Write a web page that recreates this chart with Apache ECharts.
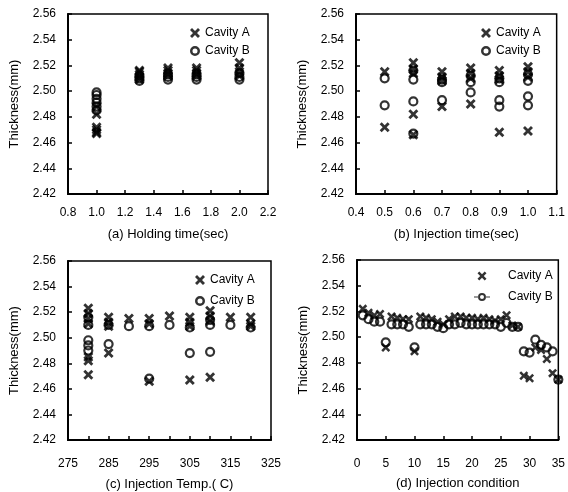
<!DOCTYPE html>
<html>
<head>
<meta charset="utf-8">
<script src="https://cdn.jsdelivr.net/npm/echarts@6/dist/echarts.min.js"></script>
<style>
html,body{margin:0;padding:0;background:#fff;}
#main{width:568px;height:492px;}
</style>
</head>
<body>
<div id="main"></div>
<script>
// (a) holding time groups
var holdTimes = [1.0, 1.3, 1.5, 1.7, 2.0];
var holdA = [
    [2.467, 2.468, 2.470, 2.472, 2.482, 2.488],
    [2.509, 2.511, 2.513, 2.515, 2.516],
    [2.512, 2.514, 2.516, 2.518],
    [2.512, 2.514, 2.516, 2.518],
    [2.512, 2.515, 2.518, 2.522]
];
var holdB = [
    [2.485, 2.488, 2.491, 2.494, 2.497, 2.499],
    [2.508, 2.510, 2.512],
    [2.509, 2.511, 2.513],
    [2.509, 2.511, 2.513],
    [2.509, 2.511, 2.514]
];

// (b) injection time groups
var injTimes = [0.5, 0.6, 0.7, 0.8, 0.9, 1.0];
var injA = [
    [2.515, 2.472],
    [2.522, 2.517, 2.514, 2.482, 2.466],
    [2.515, 2.511, 2.508, 2.488],
    [2.518, 2.514, 2.510, 2.490],
    [2.516, 2.512, 2.509, 2.468],
    [2.519, 2.515, 2.511, 2.469]
];
var injB = [
    [2.510, 2.489],
    [2.516, 2.509, 2.492, 2.467],
    [2.509, 2.507, 2.493],
    [2.512, 2.507, 2.499],
    [2.510, 2.507, 2.493, 2.488],
    [2.513, 2.508, 2.496, 2.489]
];

// (c) injection temperature groups
var temps = [280, 285, 290, 295, 300, 305, 310, 315, 320];
var tempA = [
    [2.523, 2.519, 2.515, 2.511, 2.485, 2.482, 2.471],
    [2.516, 2.512, 2.509, 2.488],
    [2.515],
    [2.515, 2.511, 2.466],
    [2.517],
    [2.516, 2.512, 2.509, 2.467],
    [2.521, 2.517, 2.513, 2.469],
    [2.516],
    [2.516, 2.511, 2.509]
];
var tempB = [
    [2.516, 2.510, 2.498, 2.494, 2.490],
    [2.510, 2.495],
    [2.509],
    [2.509, 2.468],
    [2.510],
    [2.508, 2.488],
    [2.514, 2.510, 2.489],
    [2.510],
    [2.508]
];

// (d) injection condition number 1..35
var condNo = [1,2,3,4,5,6,7,8,9,10,11,12,13,14,15,16,17,18,19,20,21,22,23,24,25,26,27,28,29,30,31,32,33,34,35];
var condA = [2.522, 2.519, 2.517, 2.518, 2.492, 2.516, 2.515, 2.514, 2.514, 2.489,
             2.516, 2.515, 2.514, 2.512, 2.510, 2.514, 2.516, 2.516, 2.515, 2.515,
             2.514, 2.515, 2.514, 2.513, 2.514, 2.517, 2.509, 2.508, 2.470, 2.468,
             2.492, 2.490, 2.483, 2.472, 2.467];
var condB = [2.517, 2.514, 2.512, 2.512, 2.496, 2.510, 2.510, 2.510, 2.508, 2.492,
             2.510, 2.510, 2.510, 2.508, 2.507, 2.510, 2.510, 2.511, 2.510, 2.510,
             2.510, 2.510, 2.510, 2.510, 2.508, 2.511, 2.508, 2.508, 2.489, 2.488,
             2.498, 2.494, 2.492, 2.489, 2.467];

var xNames = ['(a) Holding time(sec)', '(b) Injection time(sec)', '(c) Injection Temp.( C)', '(d) Injection condition'];
var legendNames = ['Cavity A', 'Cavity B'];

var FONT = '"Liberation Sans", Arial, sans-serif';
var crossPath = 'path://M0,2 L2,0 L5,3 L8,0 L10,2 L7,5 L10,8 L8,10 L5,7 L2,10 L0,8 L3,5 Z';
// legend icons: bold ring, and ring with short line stubs for panel (d)
var ringPath = 'path://M1,5 A4,4 0 1,0 9,5 A4,4 0 1,0 1,5 Z M3,5 A2,2 0 1,1 7,5 A2,2 0 1,1 3,5 Z';
var ringLinePath = 'path://M4,4 A4,4 0 1,0 12,4 A4,4 0 1,0 4,4 Z M6,4 A2,2 0 1,1 10,4 A2,2 0 1,1 6,4 Z M0,3.4 L4.2,3.4 L4.2,4.6 L0,4.6 Z M11.8,3.4 L16,3.4 L16,4.6 L11.8,4.6 Z';

function groupPairs(xs, groups){
    var out = [];
    xs.forEach(function(x, i){
        groups[i].forEach(function(v){ out.push([x, v]); });
    });
    return out;
}
function zipPairs(xs, ys){
    return xs.map(function(x, i){ return [x, ys[i]]; });
}

var grids = [
    {left: 68, top: 14, width: 200, height: 180},
    {left: 356, top: 14, width: 204, height: 180},
    {left: 68, top: 261, width: 203, height: 182},
    {left: 357, top: 260, width: 203, height: 180}
];
grids.forEach(function(g){
    g.show = true; g.borderColor = '#000'; g.borderWidth = 1.5;
});

var xRanges = [
    {min: 0.8, max: 2.2, interval: 0.2, fmt: function(v){ return v.toFixed(1); }},
    {min: 0.4, max: 1.1, interval: 0.1, fmt: function(v){ return v.toFixed(1); }},
    {min: 275, max: 325, interval: 5, fmt: function(v){ return ((v - 275) % 10 === 0) ? String(v) : ''; }},
    {min: 0, max: 35, interval: 5, fmt: function(v){ return String(v); }}
];
var labelMargins = [13, 13, 18, 18];
var nameGaps = [34, 34, 38, 37];

var xAxes = xRanges.map(function(r, i){
    return {
        type: 'value', gridIndex: i, min: r.min, max: r.max, interval: r.interval,
        name: xNames[i], nameLocation: 'middle', nameGap: nameGaps[i],
        nameTextStyle: {fontFamily: FONT, fontSize: 13, color: '#000'},
        axisLine: {lineStyle: {color: '#000', width: 2}},
        axisTick: {inside: true, length: 4, lineStyle: {color: '#000', width: 1.5}},
        axisLabel: {fontFamily: FONT, fontSize: 12, color: '#000', margin: labelMargins[i], formatter: r.fmt},
        splitLine: {show: false}
    };
});
var yAxes = [0,1,2,3].map(function(i){
    return {
        type: 'value', gridIndex: i, min: 2.42, max: 2.56, interval: 0.02,
        name: 'Thickness(mm)', nameLocation: 'middle', nameGap: 47, nameRotate: 90,
        nameTextStyle: {fontFamily: FONT, fontSize: 13, color: '#000'},
        axisLine: {lineStyle: {color: '#000', width: 2}},
        axisTick: {inside: true, length: 4, lineStyle: {color: '#000', width: 1.5}},
        axisLabel: {fontFamily: FONT, fontSize: 12, color: '#000', margin: 12,
            formatter: function(v){ return v.toFixed(2); }},
        splitLine: {show: false}
    };
});

var dataA = [groupPairs(holdTimes, holdA), groupPairs(injTimes, injA), groupPairs(temps, tempA), zipPairs(condNo, condA)];
var dataB = [groupPairs(holdTimes, holdB), groupPairs(injTimes, injB), groupPairs(temps, tempB), zipPairs(condNo, condB)];

var series = [];
for (var i = 0; i < 4; i++) {
    series.push({
        name: legendNames[0], type: 'scatter', xAxisIndex: i, yAxisIndex: i,
        symbol: crossPath, symbolSize: i === 3 ? 9 : 10,
        itemStyle: {color: '#000'},
        data: dataA[i], z: 3
    });
    series.push({
        name: legendNames[1], type: 'scatter', xAxisIndex: i, yAxisIndex: i,
        symbol: 'circle', symbolSize: 8,
        itemStyle: {color: 'rgba(255,255,255,0)', borderColor: '#000', borderWidth: 2.2},
        data: dataB[i], z: 2
    });
}

var legendPos = [
    {left: 185, top: 22, gap: 6},
    {left: 476, top: 22, gap: 6},
    {left: 190, top: 269, gap: 9},
    {left: 469, top: 265, gap: 9}
];
var legends = legendPos.map(function(p, i){
    var wide = (i === 3);
    return {
        orient: 'vertical', left: p.left, top: p.top, itemGap: p.gap,
        itemWidth: wide ? 16 : 10, itemHeight: wide ? 9 : 10, selectedMode: false,
        itemStyle: {color: '#000', borderWidth: 0},
        textStyle: {fontFamily: FONT, fontSize: 12, color: '#000', padding: [0, 0, 0, wide ? 13 : 0]},
        data: [
            {name: legendNames[0], icon: crossPath},
            {name: legendNames[1], icon: wide ? ringLinePath : ringPath}
        ]
    };
});

var myChart = echarts.init(document.getElementById('main'), null, {renderer: 'canvas'});
myChart.setOption({
    backgroundColor: '#fff',
    animation: false,
    legend: legends,
    grid: grids,
    xAxis: xAxes,
    yAxis: yAxes,
    series: series
});
</script>
</body>
</html>
